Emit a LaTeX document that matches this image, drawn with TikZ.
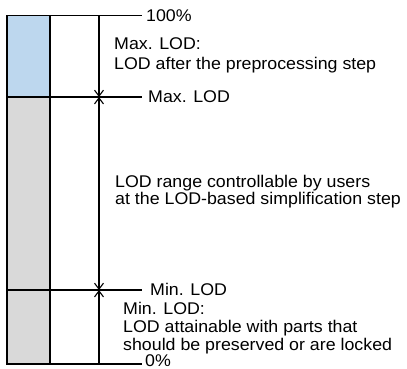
\documentclass[tikz,border=0pt]{standalone}
\usepackage{fontspec}
\setmainfont{Liberation Sans}[FakeStretch=1.05]
\usetikzlibrary{arrows.meta}
\definecolor{barblue}{RGB}{189,215,238}
\definecolor{bargray}{RGB}{217,217,217}
\begin{document}
\begin{tikzpicture}[x=1bp,y=-1bp,
  rule/.style={line width=1.2bp, draw=black},
  dimline/.style={line width=1.2bp, draw=black},
  barb/.tip={Straight Barb[length=6bp,width=9bp,line width=1.1bp]},
  lbl/.style={anchor=base west, inner sep=0pt, font=\fontsize{17}{19}\selectfont}]
\useasboundingbox (0,0) rectangle (407,369);
% bar
\fill[barblue] (7,15.5) rectangle (50,97);
\fill[bargray] (7,97) rectangle (50,364);
\draw[rule] (7,15.5) rectangle (50,364);
% level coordinates
\coordinate (tl) at (7,15.5);  \coordinate (tr) at (142,15.5);
\coordinate (ml) at (7,97);    \coordinate (mr) at (142,97);
\coordinate (nl) at (7,290);   \coordinate (nr) at (142,290);
\coordinate (bl) at (7,364);   \coordinate (br) at (142,364);
\coordinate (vt) at (99,15.5); \coordinate (vm) at (99,97);
\coordinate (vn) at (99,290);  \coordinate (vb) at (99,364);
% level lines
\draw[rule] (tl) -- (tr);
\draw[rule] (ml) -- (mr);
\draw[rule] (nl) -- (nr);
\draw[rule] (bl) -- (br);
% dimension line
\draw[dimline, -barb] (vt) -- (vm);
\draw[dimline, barb-barb] (vm) -- (vn);
\draw[dimline, -barb] (vb) -- (vn);
% labels
\node[lbl] (p100) at (146,21) {100\%};
\node[lbl] (maxlbl) at (148,102) {Max. LOD};
\node[lbl] (minlbl) at (150,295) {Min. LOD};
\node[lbl] (p0) at (145,366.5) {0\%};
% descriptions
\node[lbl] (maxa) at (114,49) {Max. LOD:};
\node[lbl] (maxb) at (114,69) {LOD after the preprocessing step};
\node[lbl] (rnga) at (115,187) {LOD range controllable by users};
\node[lbl] (rngb) at (115,204) {at the LOD-based simplification step};
\node[lbl] (mina) at (123,314) {Min. LOD:};
\node[lbl] (minb) at (123,332) {LOD attainable with parts that};
\node[lbl] (minc) at (123,350) {should be preserved or are locked};
\end{tikzpicture}
\end{document}
